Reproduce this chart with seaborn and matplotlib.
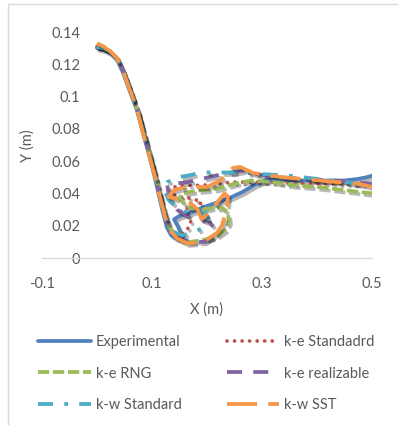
import matplotlib
matplotlib.use("Agg")
import matplotlib.pyplot as plt
import matplotlib.patheffects as pe
from matplotlib.lines import Line2D
import seaborn as sns
import pandas as pd

# ---------------- data ----------------
exp_x = [0.000, 0.012, 0.024, 0.036, 0.047, 0.060, 0.073, 0.084, 0.096, 0.105, 0.113, 0.120, 0.127,
         0.135, 0.145, 0.155, 0.148, 0.140, 0.150, 0.170, 0.190, 0.215, 0.240, 0.265, 0.285, 0.305,
         0.330, 0.370, 0.410, 0.450, 0.475, 0.490, 0.500]
exp_y = [0.130, 0.129, 0.127, 0.123, 0.115, 0.103, 0.091, 0.077, 0.062, 0.050, 0.038, 0.028, 0.019,
         0.014, 0.012, 0.013, 0.019, 0.024, 0.026, 0.028, 0.031, 0.034, 0.037, 0.041, 0.045, 0.048,
         0.049, 0.048, 0.048, 0.048, 0.049, 0.050, 0.051]

kes_x = [0.000, 0.012, 0.024, 0.036, 0.047, 0.060, 0.073, 0.084, 0.096, 0.106, 0.114, 0.122, 0.128,
         0.137, 0.150, 0.163, 0.171, 0.166, 0.152, 0.165, 0.185, 0.190, 0.170, 0.148, 0.130, 0.140,
         0.165, 0.190, 0.220, 0.250, 0.280, 0.320, 0.360, 0.400, 0.450, 0.500]
kes_y = [0.131, 0.130, 0.128, 0.124, 0.116, 0.104, 0.092, 0.078, 0.063, 0.050, 0.038, 0.027, 0.020,
         0.016, 0.014, 0.017, 0.022, 0.026, 0.029, 0.031, 0.032, 0.035, 0.037, 0.038, 0.041, 0.044,
         0.045, 0.045, 0.046, 0.047, 0.047, 0.047, 0.046, 0.046, 0.046, 0.0455]

rng_x = [0.000, 0.012, 0.024, 0.036, 0.047, 0.060, 0.073, 0.085, 0.097, 0.107, 0.116, 0.124, 0.132,
         0.142, 0.155, 0.170, 0.190, 0.215, 0.232, 0.240, 0.238, 0.228, 0.210, 0.190, 0.170, 0.158,
         0.150, 0.155, 0.170, 0.190, 0.220, 0.250, 0.280, 0.320, 0.360, 0.400, 0.450, 0.500]
rng_y = [0.131, 0.130, 0.128, 0.124, 0.116, 0.104, 0.092, 0.078, 0.063, 0.050, 0.038, 0.027, 0.019,
         0.014, 0.011, 0.010, 0.011, 0.013, 0.017, 0.022, 0.028, 0.031, 0.031, 0.030, 0.031, 0.034,
         0.037, 0.040, 0.041, 0.042, 0.043, 0.046, 0.048, 0.047, 0.045, 0.044, 0.042, 0.040]

rea_x = [0.000, 0.012, 0.024, 0.036, 0.047, 0.060, 0.073, 0.084, 0.096, 0.106, 0.115, 0.123, 0.132,
         0.143, 0.158, 0.175, 0.195, 0.210, 0.215, 0.205, 0.190, 0.175, 0.160, 0.145, 0.135, 0.130,
         0.128, 0.140, 0.165, 0.190, 0.215, 0.245, 0.265, 0.290, 0.330, 0.380, 0.430, 0.470, 0.500]
rea_y = [0.131, 0.130, 0.128, 0.124, 0.116, 0.104, 0.092, 0.078, 0.063, 0.050, 0.038, 0.027, 0.019,
         0.014, 0.011, 0.010, 0.010, 0.013, 0.018, 0.022, 0.024, 0.025, 0.027, 0.030, 0.035, 0.040,
         0.045, 0.046, 0.047, 0.049, 0.051, 0.053, 0.054, 0.052, 0.050, 0.049, 0.048, 0.047, 0.046]

kws_x = [0.000, 0.012, 0.024, 0.036, 0.047, 0.060, 0.073, 0.084, 0.096, 0.106, 0.114, 0.122, 0.130,
         0.140, 0.155, 0.175, 0.195, 0.202, 0.197, 0.180, 0.160, 0.145, 0.130, 0.123, 0.128, 0.145,
         0.165, 0.190, 0.220, 0.260, 0.300, 0.350, 0.400, 0.450, 0.500]
kws_y = [0.131, 0.130, 0.128, 0.124, 0.116, 0.104, 0.092, 0.078, 0.063, 0.050, 0.038, 0.028, 0.021,
         0.016, 0.014, 0.016, 0.019, 0.024, 0.028, 0.028, 0.029, 0.032, 0.036, 0.042, 0.047, 0.050,
         0.051, 0.053, 0.053, 0.053, 0.052, 0.051, 0.049, 0.047, 0.045]

sst_x = [0.000, 0.012, 0.024, 0.036, 0.047, 0.060, 0.073, 0.084, 0.096, 0.106, 0.115, 0.124, 0.133,
         0.146, 0.165, 0.193, 0.218, 0.227, 0.236, 0.238, 0.232, 0.215, 0.200, 0.190, 0.183, 0.170,
         0.150, 0.130, 0.140, 0.160, 0.200, 0.224, 0.247, 0.260, 0.284, 0.338, 0.405, 0.478, 0.500]
sst_y = [0.133, 0.131, 0.128, 0.124, 0.116, 0.104, 0.092, 0.077, 0.062, 0.050, 0.037, 0.025, 0.017,
         0.012, 0.009, 0.0099, 0.0155, 0.020, 0.030, 0.038, 0.040, 0.033, 0.027, 0.024, 0.030, 0.034,
         0.036, 0.038, 0.042, 0.044, 0.044, 0.048, 0.0557, 0.0565, 0.0526, 0.050, 0.048, 0.0458, 0.044]

series_names = ["Experimental", "k-e Standadrd", "k-e RNG", "k-e realizable", "k-w Standard", "k-w SST"]
series_x = [exp_x, kes_x, rng_x, rea_x, kws_x, sst_x]
series_y = [exp_y, kes_y, rng_y, rea_y, kws_y, sst_y]

x_ticks = [-0.1, 0.1, 0.3, 0.5]
x_tick_labels = ["-0.1", "0.1", "0.3", "0.5"]
y_ticks = [0, 0.02, 0.04, 0.06, 0.08, 0.10, 0.12, 0.14]
y_tick_labels = ["0", "0.02", "0.04", "0.06", "0.08", "0.1", "0.12", "0.14"]

# ---------------- style ----------------
sns.set_theme(style="white")
plt.rcParams["font.family"] = ["Lato", "DejaVu Sans"]
TXT = "#595959"

colors = ["#4F81BD", "#C0504D", "#9BBB59", "#8064A2", "#4BACC6", "#F79646"]
styles = ["-", (0, (0.01, 2)), (0, (3, 1)), (0, (4, 3)), (0, (4, 3, 1, 3)), (0, (8, 3))]
caps = ["butt", "round", "butt", "butt", "butt", "butt"]

W, H = 398, 425
fig = plt.figure(figsize=(W / 100, H / 100), dpi=100)
ax = fig.add_axes([42 / W, 1 - 258 / H, 330 / W, 226 / H])

lw = 2.7
for name, xs, ys, c, ls, cap in zip(series_names, series_x, series_y, colors, styles, caps):
    df = pd.DataFrame({"x": xs, "y": ys})
    sns.lineplot(data=df, x="x", y="y", sort=False, estimator=None, ax=ax, color=c,
                 linestyle=ls, linewidth=lw, label=name, dash_capstyle=cap,
                 solid_capstyle="round",
                 path_effects=[pe.SimpleLineShadow(offset=(1.5, -1.8), shadow_color="black", alpha=0.28),
                               pe.Normal()])

ax.set_xlim(-0.1, 0.5)
ax.set_ylim(0, 0.14)
ax.set_xticks(x_ticks)
ax.set_xticklabels(x_tick_labels)
ax.set_yticks(y_ticks)
ax.set_yticklabels(y_tick_labels)
ax.set_xlabel("")
ax.set_ylabel("")

for s in ["top", "right", "left"]:
    ax.spines[s].set_visible(False)
ax.spines["bottom"].set_color("#D9D9D9")
ax.spines["bottom"].set_linewidth(1.0)
ax.spines["left"].set_position(("data", 0))
ax.tick_params(axis="x", length=0, pad=13.5, labelsize=10.5, labelcolor=TXT)
ax.tick_params(axis="y", length=0, pad=12, labelsize=10.5, labelcolor=TXT)
for t in ax.get_yticklabels():
    t.set_bbox(dict(facecolor="white", edgecolor="none", pad=1.0))
ax.patch.set_alpha(0)

fig.text(28 / W, 1 - 146 / H, "Y (m)", rotation=90, ha="center", va="center", fontsize=10.5, color=TXT)
fig.text(206 / W, 1 - 310 / H, "X (m)", ha="center", va="center", fontsize=10.5, color=TXT)

# legend (rows: Exp | k-e Std ; RNG | realizable ; k-w Std | SST)
handles, labels = ax.get_legend_handles_labels()
order = [0, 2, 4, 1, 3, 5]
leg = fig.legend([handles[i] for i in order], [labels[i] for i in order], ncol=2,
                 loc="upper left", bbox_to_anchor=(38 / W, 1 - 335 / H), frameon=False,
                 fontsize=10.5, handlelength=3.6, handletextpad=0.35, columnspacing=3.1,
                 labelspacing=1.2, borderaxespad=0, borderpad=0)
if ax.get_legend() is not None:
    ax.get_legend().remove()
for h in leg.get_lines():
    h.set_path_effects([])
for t in leg.get_texts():
    t.set_color(TXT)

# chart-area border (left and top edges visible)
fig.add_artist(Line2D([8 / W, 8 / W], [0, 1 - 4 / H], color="#D9D9D9", lw=1.0, transform=fig.transFigure))
fig.add_artist(Line2D([8 / W, 1], [1 - 4 / H, 1 - 4 / H], color="#D9D9D9", lw=1.0, transform=fig.transFigure))

fig.savefig("out.png", dpi=100)
